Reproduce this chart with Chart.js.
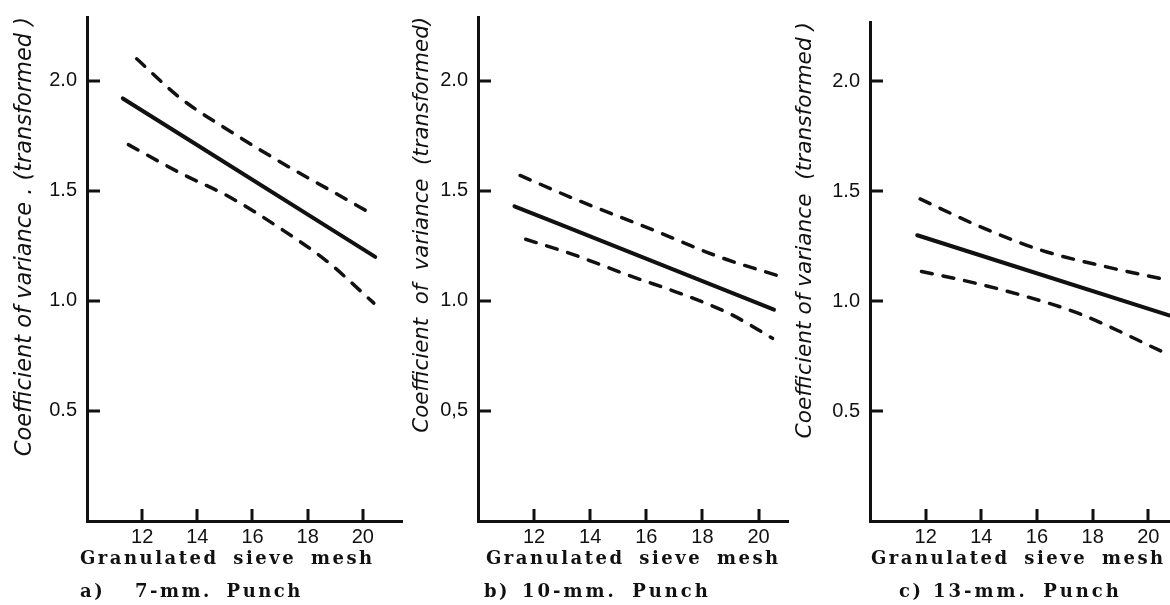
<!DOCTYPE html>
<html lang="en">
<head>
  <meta charset="UTF-8" />
  <title>Coefficient of variance vs sieve mesh</title>
  <script src="https://cdn.jsdelivr.net/npm/chart.js"></script>
  <style>
    body {
      margin: 0;
      background: #fff;
      width: 1170px;
      height: 605px;
      position: relative;
      overflow: hidden;
    }
    canvas {
      position: absolute;
      top: 0;
    }
    .cap {
      position: absolute;
      font-family: 'DejaVu Serif', 'Liberation Serif', serif;
      font-weight: bold;
      font-size: 18px;
      letter-spacing: 2.5px;
      word-spacing: 6px;
      white-space: pre;
      color: #111;
      line-height: 20px;
    }
    .l1 { top: 548px; }
    .l2 { top: 581px; }
  </style>
</head>
<body>

  <canvas id="chartA" width="410" height="605" style="left:0px"></canvas>
  <canvas id="chartB" width="410" height="605" style="left:390px"></canvas>
  <canvas id="chartC" width="390" height="605" style="left:780px"></canvas>

  <div class="cap l1" style="left:80px">Granulated sieve mesh</div>
  <div class="cap l2" style="left:80px">a)</div>
  <div class="cap l2" style="left:135px">7-mm. Punch</div>
  <div class="cap l1" style="left:486px">Granulated sieve mesh</div>
  <div class="cap l2" style="left:484px">b)</div>
  <div class="cap l2" style="left:522px; letter-spacing:3px">10-mm. Punch</div>
  <div class="cap l1" style="left:871px">Granulated sieve mesh</div>
  <div class="cap l2" style="left:899px">c)</div>
  <div class="cap l2" style="left:933px; letter-spacing:3px">13-mm. Punch</div>

<script>
  // axis ticks
  const xTicks = [12, 14, 16, 18, 20];
  const yTicks = [0.5, 1.0, 1.5, 2.0];
  const yLabelsA = ["0.5", "1.0", "1.5", "2.0"];
  const yLabelsB = ["0,5", "1.0", "1.5", "2.0"];
  const yLabelsC = ["0.5", "1.0", "1.5", "2.0"];

  // a) 7-mm punch
  const fitXA = [11.3, 20.45];
  const fitYA = [1.92, 1.20];
  const upXA = [11.8, 13.4, 15.2, 17.3, 19.0, 20.4];
  const upYA = [2.10, 1.92, 1.77, 1.61, 1.49, 1.39];
  const loXA = [11.5, 13.4, 15.2, 17.0, 18.7, 20.4];
  const loYA = [1.71, 1.58, 1.47, 1.33, 1.18, 0.99];

  // b) 10-mm punch
  const fitXB = [11.3, 20.55];
  const fitYB = [1.43, 0.96];
  const upXB = [11.5, 13.6, 16.1, 18.6, 20.8];
  const upYB = [1.57, 1.455, 1.33, 1.20, 1.11];
  const loXB = [11.7, 13.3, 15.4, 17.4, 19.0, 20.5];
  const loYB = [1.28, 1.215, 1.115, 1.025, 0.94, 0.83];

  // c) 13-mm punch
  const fitXC = [11.7, 20.75];
  const fitYC = [1.30, 0.935];
  const upXC = [11.8, 13.85, 16.15, 18.5, 20.55];
  const upYC = [1.465, 1.345, 1.232, 1.156, 1.10];
  const loXC = [11.85, 13.35, 15.45, 17.5, 20.6];
  const loYC = [1.135, 1.095, 1.027, 0.944, 0.765];

  const ink = "#111";
  Chart.defaults.font.family = "'Liberation Sans Narrow', 'Liberation Sans', Arial, sans-serif";
  Chart.defaults.color = ink;

  // short tick marks pointing into the plot, like the printed figure
  const innerTicks = {
    id: "innerTicks",
    afterDraw(chart) {
      const ctx = chart.ctx;
      const xs = chart.scales.x;
      const ys = chart.scales.y;
      const area = chart.chartArea;
      ctx.save();
      ctx.setLineDash([]);
      ctx.strokeStyle = ink;
      ctx.lineWidth = 3;
      ctx.beginPath();
      for (const v of xTicks) {
        const px = Math.round(xs.getPixelForValue(v));
        ctx.moveTo(px, area.bottom);
        ctx.lineTo(px, area.bottom - 12);
      }
      for (const v of yTicks) {
        const py = Math.round(ys.getPixelForValue(v));
        ctx.moveTo(area.left, py);
        ctx.lineTo(area.left + 13, py);
      }
      ctx.stroke();
      ctx.restore();
    }
  };

  function pts(xs, ys) {
    return xs.map((x, i) => ({ x: x, y: ys[i] }));
  }

  function line(xs, ys, dashed) {
    return {
      data: pts(xs, ys),
      borderColor: ink,
      borderWidth: dashed ? 3.5 : 4,
      borderDash: dashed ? [11, 11] : [],
      borderCapStyle: "round",
      pointRadius: 0,
      cubicInterpolationMode: "monotone",
      fill: false
    };
  }

  function makePanel(id, p) {
    return new Chart(document.getElementById(id), {
      type: "line",
      data: {
        datasets: [
          line(p.fitX, p.fitY, false),
          line(p.upX, p.upY, true),
          line(p.loX, p.loY, true)
        ]
      },
      plugins: [innerTicks],
      options: {
        responsive: false,
        animation: false,
        layout: { padding: { top: p.top, right: p.right, left: 0, bottom: 0 } },
        plugins: { legend: { display: false }, tooltip: { enabled: false } },
        scales: {
          x: {
            type: "linear",
            min: 10,
            max: p.xMax,
            afterFit: s => { s.height = 84; s.paddingLeft = 0; s.paddingRight = 0; },
            afterBuildTicks: s => { s.ticks = xTicks.map(v => ({ value: v })); },
            grid: { drawOnChartArea: false, drawTicks: false },
            border: { color: ink, width: 3 },
            ticks: { padding: 4, font: { size: 20 }, maxRotation: 0, callback: v => String(v) }
          },
          y: {
            min: 0,
            max: p.yMax,
            afterFit: s => { s.width = p.yWidth; s.paddingTop = 0; s.paddingBottom = 0; },
            afterBuildTicks: s => { s.ticks = yTicks.map(v => ({ value: v })); },
            grid: { drawOnChartArea: false, drawTicks: false },
            border: { color: ink, width: 3 },
            ticks: { padding: 10, font: { size: 20 }, callback: (v, i) => p.yLabels[i] },
            title: {
              display: true,
              text: p.title,
              align: "end",
              padding: { top: p.titlePad, bottom: 0 },
              font: { family: "'DejaVu Sans', sans-serif", size: p.titleSize, style: "italic" }
            }
          }
        }
      }
    });
  }

  makePanel("chartA", {
    fitX: fitXA, fitY: fitYA, upX: upXA, upY: upYA, loX: loXA, loY: loYA,
    yLabels: yLabelsA, title: "Coefficient of variance . (transformed )",
    top: 17, right: 8, xMax: 21.42, yMax: 2.29, yWidth: 87, titlePad: 12, titleSize: 22.5
  });

  makePanel("chartB", {
    fitX: fitXB, fitY: fitYB, upX: upXB, upY: upYB, loX: loXB, loY: loYB,
    yLabels: yLabelsB, title: "Coefficient  of  variance  (transformed)",
    top: 17, right: 12, xMax: 21.05, yMax: 2.29, yWidth: 88, titlePad: 20, titleSize: 21.3
  });

  makePanel("chartC", {
    fitX: fitXC, fitY: fitYC, upX: upXC, upY: upYC, loX: loXC, loY: loYC,
    yLabels: yLabelsC, title: "Coefficient of variance  (transformed )",
    top: 22, right: 0, xMax: 20.78, yMax: 2.27, yWidth: 90, titlePad: 12, titleSize: 21.7
  });
</script>

</body>
</html>
